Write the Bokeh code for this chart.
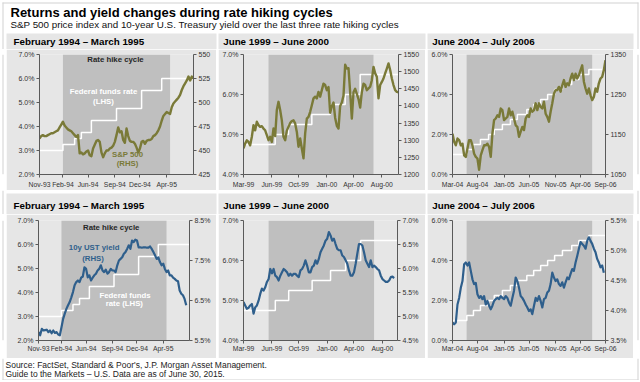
import numpy as np
from bokeh.plotting import figure
from bokeh.models import Range1d, LinearAxis, FixedTicker, BoxAnnotation, Label, Spacer, PrintfTickFormatter
from bokeh.layouts import column, row
from bokeh.embed import file_html
from bokeh.resources import INLINE
from bokeh.core.properties import value

FONT = "Liberation Sans"
PANEL = "#E6E6E6"
SHADE = "#BFBFBF"
OLIVE = "#7A7A38"
BLUE = "#2F5F8C"
AXIS = "#5A5A5A"
TXT = "#333333"
FRAME = "#D2D2D2"

TITLE = "Returns and yield changes during rate hiking cycles"
SUBTITLE = "S&P 500 price index and 10-year U.S. Treasury yield over the last three rate hiking cycles"
SOURCE1 = "Source: FactSet, Standard & Poor's, J.P. Morgan Asset Management."
SOURCE2 = "Guide to the Markets \u2013 U.S. Data are as of June 30, 2015."
TITLES = ["February 1994 \u2013 March 1995", "June 1999 \u2013 June 2000", "June 2004 \u2013 July 2006"]

# ---------------- data (weekly samples) ----------------
# Cycle 1: February 1994 - March 1995
labels_94 = ["Nov-93", "Feb-94", "Jun-94", "Sep-94", "Dec-94", "Apr-95"]
ticks_94 = [0, 14, 29, 45, 60, 76]
sp500_94 = [462.5, 465, 466, 465, 465, 466, 467, 468, 468, 469, 470, 471, 474, 477, 480, 476,
            474, 472, 471, 470, 468, 466, 464, 466, 447, 448, 446, 447, 449, 450, 445, 444,
            452, 456, 460, 461, 459, 448, 443, 447, 450, 450, 452, 453, 455, 459, 466, 474,
            469, 470, 461, 458, 473, 465, 460, 459, 459, 457, 453, 448, 452, 459, 460, 457,
            460, 461, 461, 462, 465, 466, 468, 471, 475, 481, 486, 488, 490, 489, 488, 495,
            499, 501, 503, 505, 508, 513, 517, 520, 523, 527, 523, 527, 525]
ust_94 = [5.71, 5.63, 5.79, 5.75, 5.76, 5.77, 5.71, 5.75, 5.68, 5.75, 5.69, 5.71, 5.65, 5.63,
          5.83, 6.04, 6.17, 6.29, 6.38, 6.46, 6.58, 6.71, 6.88, 6.96, 7.00, 6.96, 7.07, 7.10,
          7.33, 7.29, 7.08, 7.13, 7.00, 7.07, 7.13, 7.17, 7.25, 7.29, 7.38, 7.25, 7.21, 7.27,
          7.17, 7.21, 7.29, 7.25, 7.25, 7.21, 7.38, 7.50, 7.54, 7.58, 7.67, 7.71, 7.79, 7.88,
          7.79, 8.00, 7.96, 8.02, 8.00, 7.83, 7.83, 7.82, 7.83, 7.83, 7.82, 7.82, 7.85, 7.79,
          7.71, 7.63, 7.54, 7.58, 7.46, 7.38, 7.42, 7.29, 7.21, 7.25, 7.13, 7.13, 7.07, 7.04,
          7.00, 6.98, 6.75, 6.67, 6.63, 6.54, 6.38]
fed_x_94 = [0, 14, 21, 25, 31, 46, 61, 73, 92]
fed_94 = [3.0, 3.25, 3.5, 3.75, 4.25, 4.75, 5.5, 6.0, 6.0]
hike_94 = (14, 78)

# Cycle 2: June 1999 - June 2000
labels_99 = ["Mar-99", "Jun-99", "Oct-99", "Jan-00", "Apr-00", "Aug-00"]
ticks_99 = [0, 17, 33, 50, 66, 83]
sp500_99 = [1276, 1290, 1300, 1295, 1285, 1310, 1344, 1329, 1354, 1344, 1339, 1341, 1334, 1329,
            1315, 1300, 1310, 1295, 1334, 1312, 1388, 1412, 1388, 1358, 1310, 1300, 1328, 1339,
            1350, 1356, 1358, 1349, 1324, 1281, 1305, 1276, 1247, 1320, 1363, 1368, 1383, 1402,
            1422, 1427, 1422, 1441, 1427, 1446, 1465, 1461, 1446, 1455, 1380, 1400, 1410, 1365,
            1342, 1334, 1400, 1410, 1430, 1520, 1509, 1510, 1440, 1363, 1440, 1450, 1435, 1420,
            1395, 1440, 1465, 1461, 1446, 1451, 1456, 1475, 1514, 1495, 1485, 1422, 1461, 1470,
            1480, 1495, 1509, 1524, 1505, 1480, 1461, 1446, 1441, 1440]
ust_99 = [5.30, 5.23, 5.16, 5.18, 5.23, 5.26, 5.06, 5.19, 5.23, 5.33, 5.47, 5.58, 5.54, 5.61,
          5.72, 5.78, 5.99, 5.90, 5.99, 5.85, 5.82, 5.75, 5.85, 5.92, 5.99, 5.96, 5.92, 5.85,
          5.89, 5.85, 5.89, 5.89, 5.85, 5.82, 5.96, 5.99, 6.06, 6.17, 6.06, 5.92, 5.92, 6.03,
          6.06, 6.17, 6.10, 6.20, 6.34, 6.41, 6.48, 6.58, 6.62, 6.76, 6.69, 6.58, 6.62, 6.51,
          6.41, 6.38, 6.38, 6.27, 6.24, 6.17, 6.10, 5.96, 5.85, 5.85, 5.92, 6.10, 6.31, 6.51,
          6.51, 6.48, 6.34, 6.17, 6.10, 6.03, 6.17, 6.03, 6.06, 6.03, 5.99, 5.96, 5.85, 5.78,
          5.75, 5.72, 5.72, 5.75, 5.82, 5.83, 5.80]
fed_x_99 = [0, 19, 27, 41, 52, 61, 70, 93]
fed_99 = [4.75, 5.0, 5.25, 5.5, 5.75, 6.0, 6.5, 6.5]
hike_99 = (15, 78)

# Cycle 3: June 2004 - July 2006
labels_04 = ["Mar-04", "Aug-04", "Jan-05", "Jun-05", "Nov-05", "Apr-06", "Sep-06"]
ticks_04 = [0, 15, 31, 46, 62, 77, 92]
sp500_04 = [1152, 1132, 1123, 1140, 1136, 1123, 1127, 1098, 1094, 1115, 1136, 1136, 1123, 1102,
            1094, 1090, 1062, 1098, 1111, 1123, 1123, 1127, 1119, 1094, 1152, 1186, 1190, 1198,
            1194, 1215, 1211, 1186, 1190, 1194, 1215, 1198, 1207, 1190, 1173, 1169, 1144, 1157,
            1169, 1161, 1190, 1198, 1194, 1215, 1207, 1211, 1228, 1211, 1228, 1219, 1215, 1232,
            1202, 1194, 1182, 1207, 1228, 1252, 1261, 1261, 1269, 1257, 1273, 1286, 1269, 1278,
            1273, 1290, 1302, 1286, 1302, 1290, 1298, 1311, 1323, 1282, 1265, 1252, 1265, 1248,
            1236, 1244, 1265, 1257, 1278, 1290, 1294, 1311, 1336]
ust_04 = [3.80, 3.77, 3.80, 4.10, 4.21, 4.38, 4.49, 4.77, 4.80, 4.75, 4.80, 4.66, 4.52, 4.44,
          4.46, 4.27, 4.21, 4.24, 4.19, 4.24, 4.10, 4.16, 4.08, 4.02, 4.08, 4.16, 4.19, 4.21,
          4.19, 4.24, 4.21, 4.19, 4.24, 4.21, 4.13, 4.08, 4.21, 4.33, 4.55, 4.49, 4.38, 4.24,
          4.21, 4.16, 4.10, 4.05, 3.99, 4.02, 3.94, 4.08, 4.21, 4.16, 4.24, 4.16, 4.05, 4.19,
          4.21, 4.30, 4.33, 4.44, 4.63, 4.55, 4.49, 4.52, 4.44, 4.41, 4.47, 4.38, 4.47, 4.55,
          4.52, 4.61, 4.69, 4.66, 4.80, 4.91, 5.03, 5.14, 5.11, 5.08, 5.03, 5.16, 5.22, 5.16,
          5.11, 5.03, 4.97, 4.86, 4.80, 4.72, 4.75, 4.63]
fed_x_04 = [0, 8.6, 12.6, 16.8, 21.7, 25.1, 30.0, 34.8, 39.0, 44.7, 48.8, 53.0, 57.2, 61.4,
            66.1, 71.7, 76.0, 82.0, 92]
fed_04 = [1.0, 1.25, 1.5, 1.75, 2.0, 2.25, 2.5, 2.75, 3.0, 3.25, 3.5, 3.75, 4.0, 4.25, 4.5,
          4.75, 5.0, 5.25, 5.25]
hike_04 = (8.5, 84)

# ---------------- layout constants (pixels) ----------------
PW = [210, 207, 206]            # panel widths
PL = [6, 218, 427]              # panel left edges
TITLE_X = [13, 222.7, 431.7]    # panel title x positions
HDR_H, TOP_STRIP, TOP_H = 49, 16, 141
MID_H, BOT_STRIP, BOT_H = 24, 21, 144
FTR_H = 22
W = 640
BX0, BX1 = 2, 637               # outer frame x positions
BY0, BY1 = 2, 379               # outer frame y positions
Y_FTR = HDR_H + TOP_H + MID_H + BOT_H


def blank(w, h, y0=0):
    f = figure(width=w, height=h, x_range=Range1d(0, w), y_range=Range1d(h, 0),
               output_backend="svg", toolbar_location=None, x_axis_type=None, y_axis_type=None,
               min_border=0, outline_line_color=None, background_fill_color="white",
               border_fill_color="white")
    f.grid.visible = False
    return f


def vframe(f, h, xs, top=0, bottom=None):
    bottom = h if bottom is None else bottom
    f.quad(left=[x for x in xs], right=[x + 1 for x in xs], top=[top] * len(xs),
           bottom=[bottom] * len(xs), fill_color=FRAME, line_color=None)


def add_strip(f, top, bottom, ty):
    f.quad(left=PL, right=[l + w for l, w in zip(PL, PW)], top=[top] * 3, bottom=[bottom] * 3,
           fill_color=PANEL, line_color=None)
    f.text(x=TITLE_X, y=[ty] * 3, text=TITLES, text_font=value(FONT), text_font_size="9.8px",
           text_font_style="bold", text_color="#000000", text_baseline="middle")


def make_panel(w, h, borders, xend, lhs, lhs_ticks, rhs, rhs_ticks, rhs_fmt, xticks, xlabels,
               hike, x_standoff):
    p = figure(width=w, height=h, x_range=Range1d(0, xend), y_range=Range1d(*lhs),
               output_backend="svg", toolbar_location=None,
               min_border_left=borders[0], min_border_right=borders[1],
               min_border_top=borders[2], min_border_bottom=borders[3],
               background_fill_color=PANEL, border_fill_color=PANEL, outline_line_color=None)
    p.grid.visible = False
    p.extra_y_ranges = {"r": Range1d(*rhs)}
    p.add_layout(LinearAxis(y_range_name="r"), "right")
    p.yaxis[0].ticker = FixedTicker(ticks=lhs_ticks)
    p.yaxis[0].formatter = PrintfTickFormatter(format="%.1f%%")
    p.yaxis[1].ticker = FixedTicker(ticks=rhs_ticks)
    p.yaxis[1].formatter = PrintfTickFormatter(format=rhs_fmt)
    p.xaxis.ticker = FixedTicker(ticks=xticks)
    p.xaxis.major_label_overrides = {t: l for t, l in zip(xticks, xlabels)}
    for ax in list(p.xaxis) + list(p.yaxis):
        ax.axis_line_color = AXIS
        ax.axis_line_width = 1
        ax.major_tick_line_color = AXIS
        ax.major_tick_out = 3
        ax.major_tick_in = 0
        ax.minor_tick_line_color = None
        ax.major_label_text_font = FONT
        ax.major_label_text_font_size = "7px"
        ax.major_label_text_color = TXT
        ax.major_label_standoff = 2
    p.xaxis.major_label_text_font_size = "6.8px"
    p.xaxis.major_label_standoff = x_standoff
    p.add_layout(BoxAnnotation(left=hike[0], right=hike[1], fill_color=SHADE, fill_alpha=1,
                               line_color=None, level="underlay"))
    return p


def add_label(p, x, y, text, color, size="7.8px"):
    p.add_layout(Label(x=x, y=y, text=text, text_font=FONT, text_font_size=size,
                       text_font_style="bold", text_color=color, text_align="center",
                       text_baseline="middle"))


# ---------------- top row: S&P 500 ----------------
p1 = make_panel(PW[0], TOP_H, (33, 23, 5, 16), 92, (2, 7), [2, 3, 4, 5, 6, 7], (425, 550),
                [425, 450, 475, 500, 525, 550], "%d", ticks_94, labels_94, hike_94, 3)
p2 = make_panel(PW[1], TOP_H, (25, 27, 5, 16), 93, (4, 7), [4, 5, 6, 7], (1200, 1550),
                list(range(1200, 1551, 50)), "%d", ticks_99, labels_99, hike_99, 3)
p3 = make_panel(PW[2], TOP_H, (25, 28, 5, 16), 92, (0, 6), [0, 2, 4, 6], (1050, 1350),
                [1050, 1150, 1250, 1350], "%d", ticks_04, labels_04, hike_04, 3)

for p, sp, fx, fy in ((p1, sp500_94, fed_x_94, fed_94), (p2, sp500_99, fed_x_99, fed_99),
                      (p3, sp500_04, fed_x_04, fed_04)):
    p.step(fx, fy, mode="after", line_color="white", line_width=1.5)
    p.line(np.arange(len(sp)), sp, y_range_name="r", line_color=OLIVE, line_width=2.4,
           line_join="round")

add_label(p1, 45.4, 6.79, "Rate hike cycle", "#262626")
add_label(p1, 38.2, 5.46, "Federal funds rate", "white")
add_label(p1, 38.2, 5.04, "(LHS)", "white")
add_label(p1, 52.6, 2.83, "S&P 500", OLIVE)
add_label(p1, 52.6, 2.46, "(RHS)", OLIVE)

# ---------------- bottom row: 10y UST ----------------
p4 = make_panel(PW[0], BOT_H, (32, 27, 6, 18), 92, (2, 7), [2, 3, 4, 5, 6, 7], (5.5, 8.5),
                [5.5, 6.5, 7.5, 8.5], "%.1f%%", ticks_94, labels_94, hike_94, 1)
p5 = make_panel(PW[1], BOT_H, (25, 28, 6, 18), 92, (4, 7), [4, 5, 6, 7], (4.5, 7.0),
                [4.5, 5.0, 5.5, 6.0, 6.5, 7.0], "%.1f%%", ticks_99, labels_99, hike_99, 1)
p6 = make_panel(PW[2], BOT_H, (25, 28, 6, 18), 92, (0, 6), [0, 2, 4, 6], (3.5, 5.5),
                [3.5, 4.0, 4.5, 5.0, 5.5], "%.1f%%", ticks_04, labels_04, hike_04, 1)

for p, ust, fx, fy in ((p4, ust_94, fed_x_94, fed_94), (p5, ust_99, fed_x_99, fed_99),
                       (p6, ust_04, fed_x_04, fed_04)):
    p.step(fx, fy, mode="after", line_color="white", line_width=1.5)
    p.line(np.arange(len(ust)), ust, y_range_name="r", line_color=BLUE, line_width=2.2,
           line_join="round")

add_label(p4, 44.3, 6.70, "Rate hike cycle", "#262626")
add_label(p4, 33.9, 5.86, "10y UST yield", BLUE)
add_label(p4, 33.2, 5.43, "(RHS)", BLUE)
add_label(p4, 52.7, 3.88, "Federal funds", "white")
add_label(p4, 52.3, 3.53, "rate (LHS)", "white")

# ---------------- header (title + top strips), middle strips, footer ----------------
hdr = blank(W, HDR_H)
hdr.quad(left=[BX0], right=[BX1 + 1], top=[BY0], bottom=[BY0 + 1], fill_color=FRAME,
         line_color=None)
vframe(hdr, HDR_H, [BX0, BX1], top=BY0)
hdr.text(x=[10], y=[12], text=[TITLE], text_font=value(FONT), text_font_size="13px",
         text_font_style="bold", text_color="#000000", text_baseline="middle")
hdr.text(x=[10], y=[24], text=[SUBTITLE], text_font=value(FONT), text_font_size="9.8px",
         text_color="#111111", text_baseline="middle")
add_strip(hdr, HDR_H - TOP_STRIP, HDR_H, HDR_H - TOP_STRIP + 7.7)

mid = blank(W, MID_H)
vframe(mid, MID_H, [BX0, BX1])
add_strip(mid, MID_H - BOT_STRIP, MID_H, MID_H - BOT_STRIP + 12)

ftr = blank(W, FTR_H)
fb = BY1 - Y_FTR
vframe(ftr, FTR_H, [BX0, BX1], bottom=fb + 1)
ftr.quad(left=[BX0], right=[BX1 + 1], top=[fb], bottom=[fb + 1], fill_color=FRAME,
         line_color=None)
ftr.text(x=[5, 5], y=[6, 15], text=[SOURCE1, SOURCE2], text_font=value(FONT),
         text_font_size="8.5px", text_color="#222222", text_baseline="middle")

RW = PL[2] + PW[2]
EW = W - RW


def edges(h):
    left = blank(PL[0], h)
    vframe(left, h, [BX0])
    right = blank(EW, h)
    vframe(right, h, [BX1 - RW])
    return left, right


l1, r1 = edges(TOP_H)
l2, r2 = edges(BOT_H)
row1 = row(l1, p1, Spacer(width=2, height=TOP_H), p2, Spacer(width=2, height=TOP_H), p3, r1)
row2 = row(l2, p4, Spacer(width=2, height=BOT_H), p5, Spacer(width=2, height=BOT_H), p6, r2)
root = column(hdr, row1, mid, row2, ftr)

open("out.html", "w").write(file_html(root, INLINE))
